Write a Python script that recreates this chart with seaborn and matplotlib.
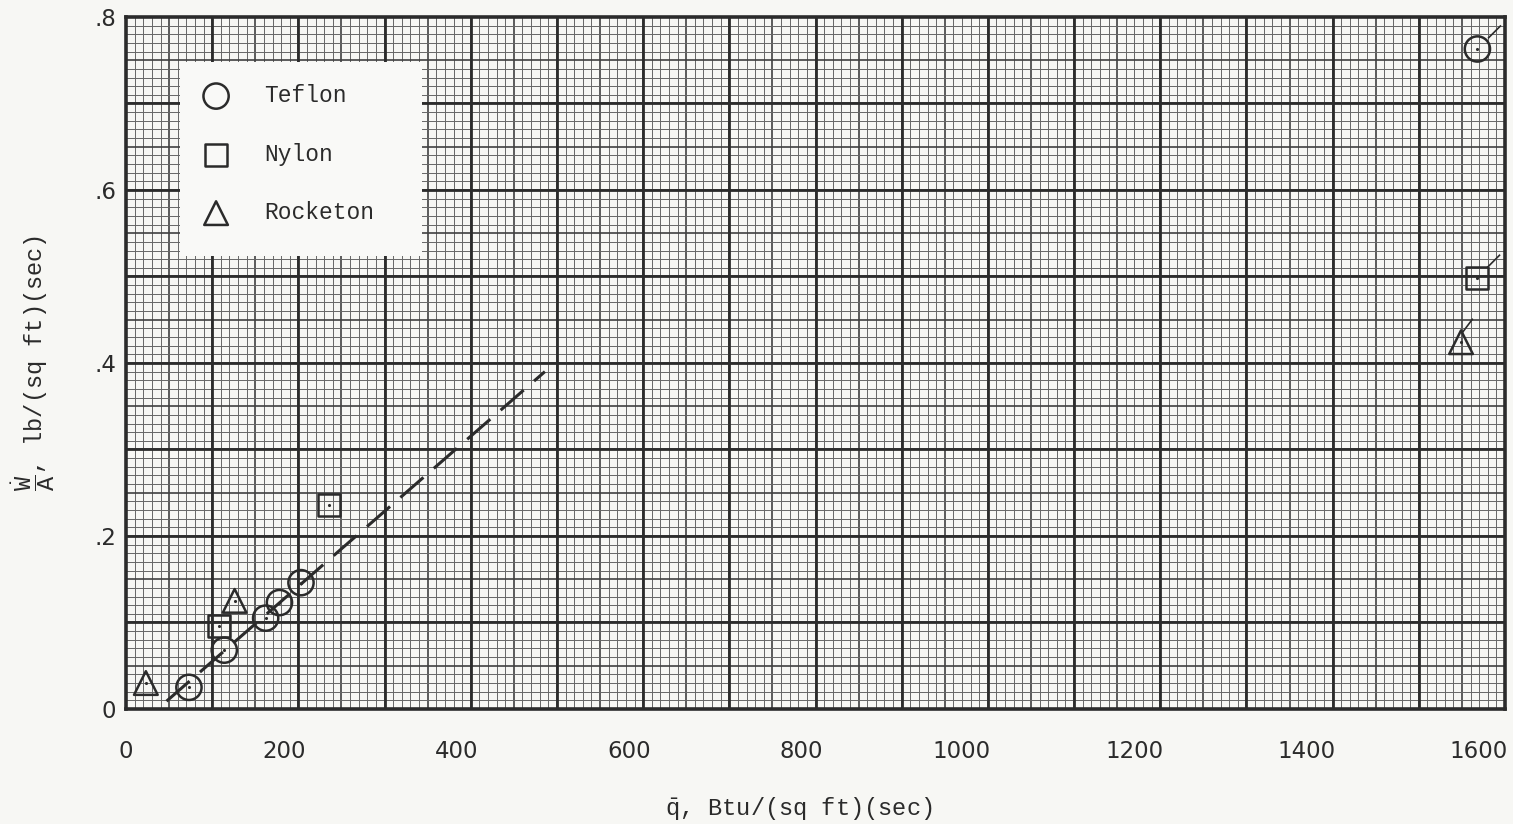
import numpy as np
import pandas as pd
import matplotlib
matplotlib.use("Agg")
import matplotlib.pyplot as plt
import seaborn as sns
from matplotlib.path import Path
from matplotlib.patches import Rectangle
from matplotlib.ticker import MultipleLocator, FuncFormatter
import matplotlib.transforms as mtransforms

# values
teflon_q = [73, 114, 162, 178, 203, 1568]
teflon_w = [0.025, 0.068, 0.105, 0.123, 0.146, 0.763]
nylon_q = [108, 236, 1567]
nylon_w = [0.096, 0.236, 0.498]
rocketon_q = [23, 126, 1549]
rocketon_w = [0.030, 0.125, 0.424]
# last point of each series is off-scale (flagged)
fit_q = [47, 486]
fit_w = [0.009, 0.390]

materials = ["Teflon", "Nylon", "Rocketon"]
y_tick_labels = {0.0: "0", 0.2: ".2", 0.4: ".4", 0.6: ".6", 0.8: ".8"}

df = pd.concat([
    pd.DataFrame({"q": teflon_q, "w": teflon_w, "mat": "Teflon"}),
    pd.DataFrame({"q": nylon_q, "w": nylon_w, "mat": "Nylon"}),
    pd.DataFrame({"q": rocketon_q, "w": rocketon_w, "mat": "Rocketon"}),
], ignore_index=True)
df["flag"] = df.groupby("mat").cumcount(ascending=False) == 0

paper = "#f7f7f4"
ink = "#2b2b2b"

sns.set_style("white")
plt.rcParams["font.family"] = ["DejaVu Sans"]
plt.rcParams["mathtext.fontset"] = "custom"
plt.rcParams["mathtext.rm"] = "Liberation Mono"
plt.rcParams["mathtext.it"] = "Liberation Mono"

fig = plt.figure(figsize=(15.13, 8.24), dpi=100, facecolor=paper)
ax = fig.add_axes([0.0833, 0.1396, 0.9114, 0.8398])
ax.set_facecolor(paper)

ax.set_xlim(0, 1600)
ax.set_ylim(0, 0.8)

# graph paper: fine 10 / 0.01, medium 50 / 0.05, heavy 100 / 0.1
ax.xaxis.set_major_locator(MultipleLocator(50))
ax.xaxis.set_minor_locator(MultipleLocator(10))
ax.yaxis.set_major_locator(MultipleLocator(0.05))
ax.yaxis.set_minor_locator(MultipleLocator(0.01))
ax.grid(which="minor", color="#666666", lw=0.7)
ax.grid(which="major", color="#404040", lw=1.2)
for v in np.arange(100, 1600, 100):
    ax.axvline(v, color=ink, lw=2.0, zorder=0.6)
for v in np.arange(0.1, 0.8, 0.1):
    ax.axhline(v, color=ink, lw=2.0, zorder=0.6)
ax.set_axisbelow(True)
for s in ax.spines.values():
    s.set_color(ink)
    s.set_linewidth(2.6)

# dashed fairing
sns.lineplot(x=fit_q, y=fit_w, ax=ax, color=ink, lw=2.2,
             linestyle=(0, (10, 4.5)), legend=False, zorder=3)

markers = {"Teflon": "o", "Nylon": "s", "Rocketon": "^"}
sizes = {"Teflon": 330, "Nylon": 250, "Rocketon": 290}
for m in materials:
    d = df[df["mat"] == m]
    sns.scatterplot(data=d, x="q", y="w", marker=markers[m], s=sizes[m],
                    facecolors="none", edgecolors=ink, linewidth=1.8,
                    label=m, ax=ax, zorder=4)

# center dots
sns.scatterplot(data=df, x="q", y="w", s=5, color=ink, linewidth=0,
                ax=ax, zorder=5, legend=False)

# flags on off-scale points
diag = Path([(0.45, 0.45), (1, 1)], [Path.MOVETO, Path.LINETO])
steep = Path([(0.05, 0.4), (0.5, 1)], [Path.MOVETO, Path.LINETO])
flags = df[df["flag"]]
for _, r in flags.iterrows():
    sns.scatterplot(x=[r["q"]], y=[r["w"]], ax=ax, zorder=5, legend=False,
                    marker=steep if r["mat"] == "Rocketon" else diag,
                    s=1150, facecolors="none", edgecolors=ink, linewidth=1.2)

ax.xaxis.set_major_formatter(FuncFormatter(
    lambda v, p: f"{int(round(v))}" if round(v) % 200 == 0 else ""))
ax.yaxis.set_major_formatter(FuncFormatter(
    lambda v, p: y_tick_labels.get(round(v, 2), "")))
ax.tick_params(axis="both", which="both", length=0, labelsize=16.5,
               labelcolor=ink)
ax.tick_params(axis="x", pad=22)
ax.tick_params(axis="y", pad=7)
fig.canvas.draw()
for lab in ax.get_xticklabels():
    txt = lab.get_text()
    if txt in ("", "0"):
        continue
    dx = -14 if len(txt) == 3 else -26
    lab.set_transform(lab.get_transform() + mtransforms.ScaledTranslation(
        dx / 100, 0, fig.dpi_scale_trans))

ax.set_xlabel(r"$\bar{\mathrm{q}}$, Btu/(sq ft)(sec)", family="Liberation Mono",
              fontsize=17, color=ink)
ax.xaxis.set_label_coords(0.488, -0.125)
ax.set_ylabel(r"$\dfrac{\dot{\mathrm{W}}}{\mathrm{A}}$, lb/(sq ft)(sec)",
              family="Liberation Mono", fontsize=17, color=ink)
ax.yaxis.set_label_coords(-0.05, 0.5)

# legend panel pasted on the paper
ax.add_patch(Rectangle((0.0392, 0.6546), 0.1755, 0.2803, transform=ax.transAxes,
                       facecolor="#f9f9f7", edgecolor="none", zorder=5.5))
leg = ax.legend(loc="upper left", bbox_to_anchor=(0.052, 0.903),
                frameon=False, prop={"family": "Liberation Mono", "size": 16.5},
                labelspacing=1.55, borderpad=0, handletextpad=1.3,
                borderaxespad=0, handlelength=1.6)
for t in leg.get_texts():
    t.set_color(ink)
leg.set_zorder(6)

fig.savefig("out.png", dpi=100, facecolor=paper)
